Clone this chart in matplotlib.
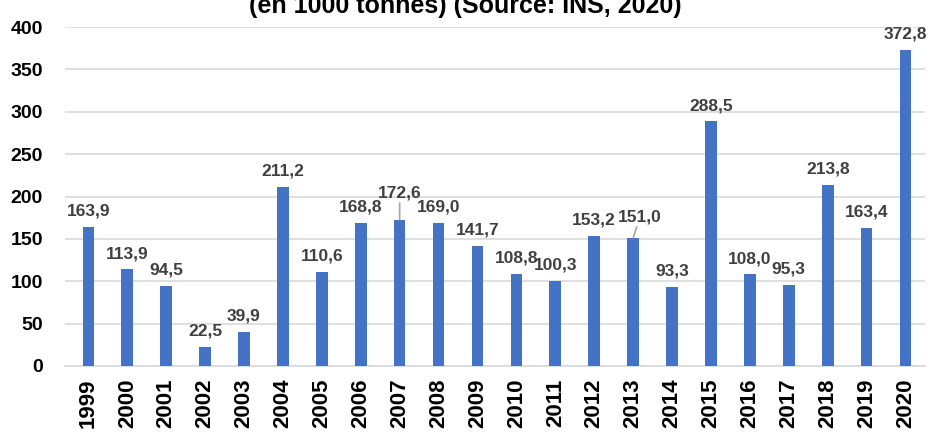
import matplotlib.pyplot as plt
import numpy as np

# Data
years = ['1999', '2000', '2001', '2002', '2003', '2004', '2005', '2006', '2007', '2008', '2009',
         '2010', '2011', '2012', '2013', '2014', '2015', '2016', '2017', '2018', '2019', '2020']
values = [163.9, 113.9, 94.5, 22.5, 39.9, 211.2, 110.6, 168.8, 172.6, 169.0, 141.7,
          108.8, 100.3, 153.2, 151.0, 93.3, 288.5, 108.0, 95.3, 213.8, 163.4, 372.8]
y_ticks = [0, 50, 100, 150, 200, 250, 300, 350, 400]

narrow = ['Liberation Sans Narrow', 'Liberation Sans', 'DejaVu Sans']

fig = plt.figure(figsize=(9.31, 4.37), dpi=100)
ax = fig.add_axes([65 / 931, (437 - 366) / 437, 860 / 931, (366 - 27) / 437])

x = np.arange(len(years))
ax.bar(x, values, width=0.3, color='#4472C4', zorder=3)

ax.set_xlim(-0.6, len(years) - 0.5)
ax.set_ylim(0, 400)
ax.set_yticks(y_ticks)
ax.set_yticklabels([str(v) for v in y_ticks], fontsize=14, fontweight='bold',
                   family='Liberation Sans')
ax.set_xticks(x)
ax.set_xticklabels(years, rotation=90, fontsize=16, fontweight='bold',
                   family='Liberation Sans')
ax.tick_params(axis='both', length=0)
ax.tick_params(axis='x', pad=9)
ax.tick_params(axis='y', pad=16)

ax.grid(axis='y', color='#d9d9d9', linewidth=1.2, zorder=0)
for s in ['top', 'right', 'left']:
    ax.spines[s].set_visible(False)
ax.spines['bottom'].set_color('#d9d9d9')
ax.spines['bottom'].set_linewidth(1.2)

# data labels (a couple were moved by hand in the original, with leader lines)
moved = {8: (0, 14), 14: (5, 10)}
for i, v in enumerate(values):
    txt = f'{v:.1f}'.replace('.', ',')
    dx, dy = moved.get(i, (0, 6))
    props = None
    if i in moved:
        props = dict(arrowstyle='-', color='#a6a6a6', lw=1.2, shrinkA=0, shrinkB=0)
    ax.annotate(txt, (i, v), xytext=(dx, dy), textcoords='offset points',
                ha='center', va='bottom', fontsize=12.5, fontweight='bold',
                color='#404040', family=narrow, arrowprops=props,
                annotation_clip=False)

fig.text(0.5, 1 - 13 / 437, '(en 1000 tonnes) (Source: INS, 2020)', ha='center',
         va='baseline', fontsize=18, fontweight='bold', color='#000000', family=narrow)

fig.savefig('out.png', dpi=100)
